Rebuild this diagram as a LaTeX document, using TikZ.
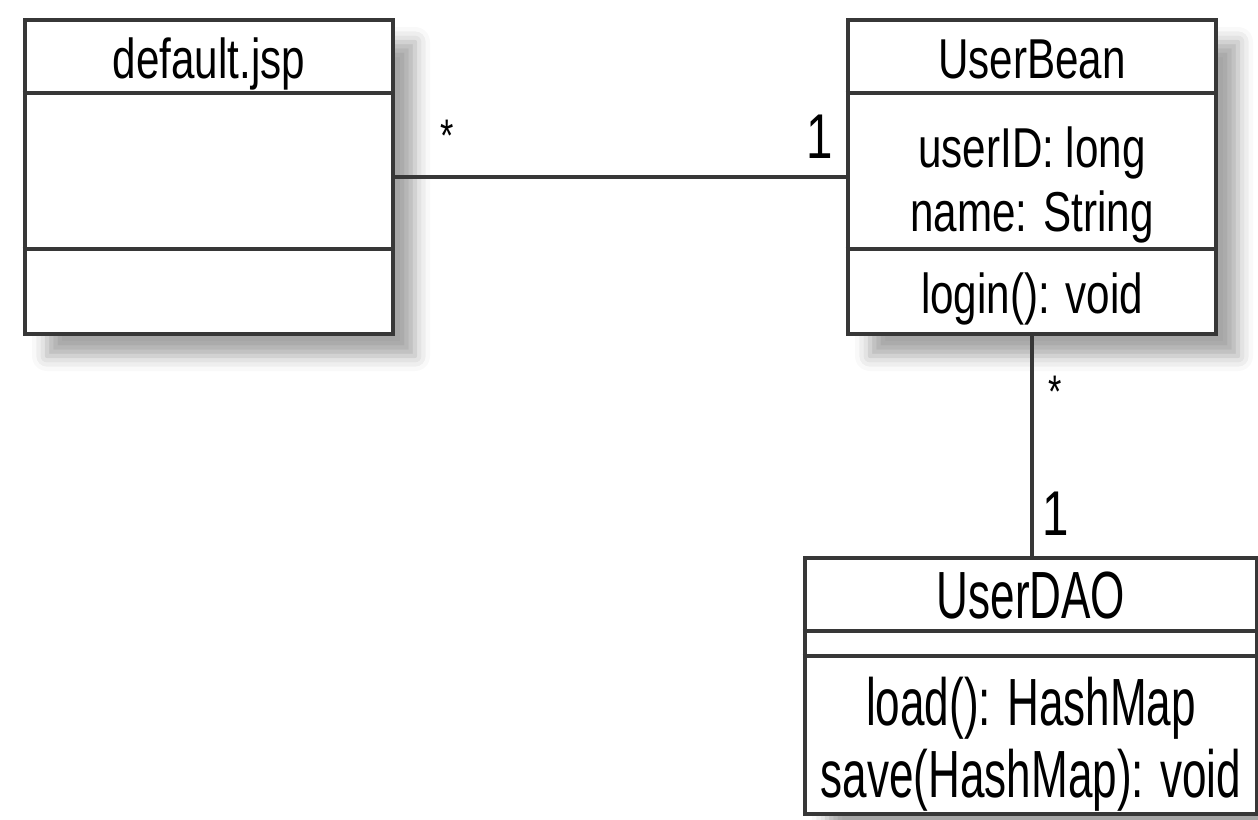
\documentclass[tikz,border=0pt]{standalone}
\usepackage{fontspec}
\setmainfont{Liberation Sans}[FakeStretch=0.75]
\newfontfamily\daofont{Liberation Sans}[FakeStretch=0.66]
\usepackage{tikz}
\usetikzlibrary{shadows.blur}
\definecolor{umlline}{RGB}{55,55,55}

\begin{document}
\begin{tikzpicture}[
    umlbox/.style={draw=umlline, line width=1.3pt, fill=white, inner sep=0pt,
        blur shadow={shadow xshift=0.22cm, shadow yshift=-0.22cm,
            shadow blur radius=0.15cm, shadow opacity=35}},
    sep/.style={draw=umlline, line width=1.3pt},
    assoc/.style={draw=umlline, line width=1.3pt},
    txt/.style={anchor=base, inner sep=0pt, font=\fontsize{16}{19}\selectfont},
    daotxt/.style={anchor=base, inner sep=0pt, font=\daofont\fontsize{19}{22}\selectfont},
    mult/.style={inner sep=0pt, font=\fontsize{18}{20}\selectfont}
  ]
  \useasboundingbox (0,0) rectangle (12.58,-8.19);

  % classes
  \node[umlbox, minimum width=3.68cm, minimum height=3.14cm] (jsp) at (2.09,-1.77) {};
  \node[umlbox, minimum width=3.68cm, minimum height=3.14cm] (bean) at (10.32,-1.77) {};
  \node[umlbox, minimum width=4.52cm, minimum height=2.56cm] (dao) at (10.31,-6.86) {};

  \draw[sep] (jsp.west |- 0,-0.93) -- (jsp.east |- 0,-0.93);
  \draw[sep] (jsp.west |- 0,-2.49) -- (jsp.east |- 0,-2.49);
  \draw[sep] (bean.west |- 0,-0.93) -- (bean.east |- 0,-0.93);
  \draw[sep] (bean.west |- 0,-2.49) -- (bean.east |- 0,-2.49);
  \draw[sep] (dao.west |- 0,-6.31) -- (dao.east |- 0,-6.31);
  \draw[sep] (dao.west |- 0,-6.56) -- (dao.east |- 0,-6.56);

  \node[txt] (jsptitle) at (2.09,-0.78) {default.jsp};
  \node[txt] (beantitle) at (10.32,-0.78) {UserBean};
  \node[txt] (beanid) at (10.32,-1.67) {userID: long};
  \node[txt] (beanname) at (10.32,-2.31) {name: String};
  \node[txt] (beanlogin) at (10.32,-3.13) {login(): void};
  \node[daotxt] (daotitle) at (10.31,-6.18) {UserDAO};
  \node[daotxt] (daoload) at (10.31,-7.25) {load(): HashMap};
  \node[daotxt] (daosave) at (10.31,-7.97) {save(HashMap): void};

  % associations
  \draw[assoc] (jsp) -- (bean);
  \draw[assoc] (bean.south) -- (bean.south |- dao.north);

  \node[mult, font=\fontsize{13}{15}\selectfont] (jspmult) at (4.47,-1.36) {*};
  \node[mult, anchor=base] (beanmult) at (8.20,-1.58) {1};
  \node[mult, font=\fontsize{13}{15}\selectfont] (beandaomult) at (10.55,-3.92) {*};
  \node[mult, anchor=base] (daomult) at (10.56,-5.35) {1};
\end{tikzpicture}
\end{document}
